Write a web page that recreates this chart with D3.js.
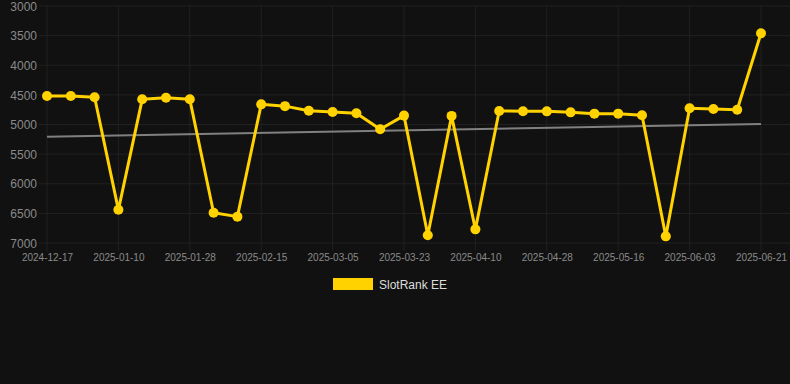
<!DOCTYPE html>
<html><head><meta charset="utf-8">
<script src="https://cdn.jsdelivr.net/npm/d3@7"></script>
<style>html,body{margin:0;padding:0;background:#111111;}svg{display:block;}</style>
</head><body>
<svg id="c" width="790" height="384"></svg>
<script>
const categories = ["2024-12-17","2024-12-25","2025-01-02","2025-01-10","2025-01-16","2025-01-22","2025-01-28","2025-02-03","2025-02-09","2025-02-15","2025-02-21","2025-02-27","2025-03-05","2025-03-11","2025-03-17","2025-03-23","2025-03-29","2025-04-04","2025-04-10","2025-04-16","2025-04-22","2025-04-28","2025-05-04","2025-05-10","2025-05-16","2025-05-22","2025-05-28","2025-06-03","2025-06-09","2025-06-15","2025-06-21"];
const rankValues = [4520,4520,4540,6440,4575,4550,4575,6490,6555,4660,4690,4767,4790,4810,5080,4850,6870,4855,6770,4772,4775,4778,4795,4817,4817,4845,6888,4727,4738,4750,3461];
const trendValues = [5206, 4992];
const yTicks = [3000,3500,4000,4500,5000,5500,6000,6500,7000];
const seriesName = "SlotRank EE";

const svg = d3.select("#c");
const mLeft = 47, mRight = 761, mTop = 6, mBottom = 243;
const x = d3.scalePoint().domain(categories).range([mLeft, mRight]);
const y = d3.scaleLinear().domain([3000, 7000]).range([mTop, mBottom]);
const grid = "#212121";
const font = "Liberation Sans, Arial, sans-serif";

// horizontal grid
svg.append("g").selectAll("line").data(yTicks).join("line")
  .attr("x1", 39).attr("x2", 790)
  .attr("y1", d => y(d)).attr("y2", d => y(d))
  .attr("stroke", grid).attr("stroke-width", 1);
// vertical grid at labelled ticks
const xTickCats = categories.filter((d, i) => i % 3 === 0);
svg.append("g").selectAll("line").data(xTickCats).join("line")
  .attr("x1", d => x(d)).attr("x2", d => x(d))
  .attr("y1", mTop).attr("y2", mBottom + 8)
  .attr("stroke", grid).attr("stroke-width", 1);

// y axis labels
const yAxis = d3.axisLeft(y).tickValues(yTicks).tickSize(0).tickPadding(0).tickFormat(d3.format("d"));
const ya = svg.append("g").attr("transform", "translate(37,0)").call(yAxis);
ya.select(".domain").remove();
ya.selectAll("text").attr("fill", "#8a8a8a").attr("font-size", 12).attr("font-family", font).attr("dy", "0.35em");

// x axis labels
const xAxis = d3.axisBottom(x).tickValues(xTickCats).tickSize(0).tickPadding(0);
const xa = svg.append("g").attr("transform", `translate(0,${mBottom + 11})`).call(xAxis);
xa.select(".domain").remove();
xa.selectAll("text").attr("fill", "#8a8a8a").attr("font-size", 10).attr("font-family", font).attr("dy", "0.71em");

// trend line
svg.append("line")
  .attr("x1", x(categories[0])).attr("x2", x(categories[categories.length - 1]))
  .attr("y1", y(trendValues[0])).attr("y2", y(trendValues[1]))
  .attr("stroke", "#808080").attr("stroke-width", 2);

// series line
const line = d3.line().x((d, i) => x(categories[i])).y(d => y(d));
svg.append("path").datum(rankValues).attr("d", line)
  .attr("fill", "none").attr("stroke", "#FFD200").attr("stroke-width", 3).attr("stroke-linejoin", "round");
svg.append("g").selectAll("circle").data(rankValues).join("circle")
  .attr("cx", (d, i) => x(categories[i])).attr("cy", d => y(d)).attr("r", 5)
  .attr("fill", "#FFD200");

// legend
svg.append("rect").attr("x", 333).attr("y", 278).attr("width", 40).attr("height", 12).attr("fill", "#FFD200");
svg.append("text").attr("x", 379).attr("y", 288.5).text(seriesName)
  .attr("fill", "#dddddd").attr("font-size", 12).attr("font-family", font);
</script>
</body></html>
